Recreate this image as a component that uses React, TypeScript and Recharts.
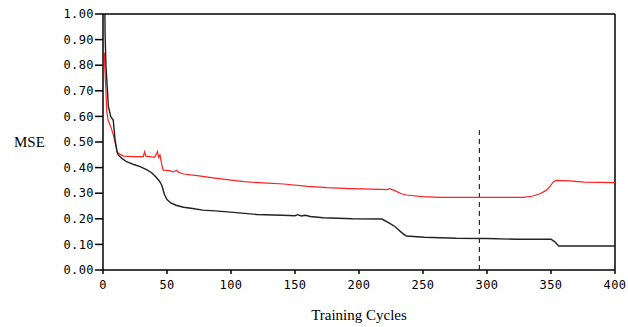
import React from 'react';
import { LineChart, Line, XAxis, YAxis, ReferenceLine } from 'recharts';

const blackCycles = [0, 1.5, 1.6, 2.3, 3, 4.2, 6, 8, 9.4, 11, 12, 15, 18.5, 24, 29, 34, 38, 41, 44, 46, 48, 50, 53, 57, 63, 70, 78, 90, 104, 120, 140, 150, 152, 155, 158, 162, 172, 195, 218, 224, 228, 234, 237, 251, 276, 300, 323, 350, 353, 356, 400];
const blackMse = [1.0, 1.0, 0.93, 0.8, 0.74, 0.64, 0.6, 0.585, 0.51, 0.46, 0.449, 0.435, 0.423, 0.412, 0.404, 0.392, 0.38, 0.365, 0.348, 0.33, 0.295, 0.275, 0.262, 0.253, 0.245, 0.24, 0.234, 0.23, 0.224, 0.217, 0.214, 0.212, 0.216, 0.211, 0.214, 0.209, 0.204, 0.2, 0.199, 0.182, 0.17, 0.143, 0.133, 0.128, 0.124, 0.123, 0.12, 0.12, 0.11, 0.094, 0.094];

const redCycles = [1, 1.5, 2.3, 2.9, 4, 6, 8, 9.4, 11, 12, 16, 25, 31.5, 32.5, 33.5, 36.7, 40, 42, 42.5, 43.5, 44.5, 46, 47, 52, 55, 57.5, 59, 63, 75, 89, 110, 125, 141, 160, 175, 193, 210, 222, 224, 228, 233, 237, 250, 263, 328, 335, 341, 346, 349, 352, 354, 365, 376, 400];
const redMse = [0.85, 0.78, 0.7, 0.62, 0.585, 0.56, 0.53, 0.5, 0.465, 0.456, 0.445, 0.443, 0.443, 0.462, 0.445, 0.443, 0.44, 0.455, 0.462, 0.44, 0.45, 0.41, 0.39, 0.388, 0.383, 0.39, 0.382, 0.375, 0.368, 0.358, 0.345, 0.34, 0.336, 0.327, 0.322, 0.318, 0.316, 0.314, 0.318, 0.31, 0.298, 0.293, 0.287, 0.284, 0.284, 0.288, 0.297, 0.31, 0.326, 0.345, 0.35, 0.348, 0.343, 0.341];

const xTicks = [0, 50, 100, 150, 200, 250, 300, 350, 400];
const yTicks = [0, 0.1, 0.2, 0.3, 0.4, 0.5, 0.6, 0.7, 0.8, 0.9, 1.0];
const markerCycle = 294;
const markerTop = 0.55;

const blackData = blackCycles.map((x, i) => ({ x, y: blackMse[i] }));
const redData = redCycles.map((x, i) => ({ x, y: redMse[i] }));

const tickStyle = { fontFamily: '"DejaVu Sans Mono", monospace', fontSize: 12, fill: '#000', letterSpacing: 0.4 };

export default function App() {
  return (
    <div style={{ position: 'absolute', left: 0, top: 0, background: '#fff' }}>
      <LineChart width={628} height={327} margin={{ top: 14, right: 13, left: 0, bottom: 27 }}>
        <XAxis
          type="number"
          dataKey="x"
          domain={[0, 400]}
          ticks={xTicks}
          allowDataOverflow
          tick={tickStyle}
          tickSize={4}
          tickMargin={6}
          height={30}
          stroke="#000"
          strokeWidth={1.5}
          label={{ value: 'Training Cycles', position: 'bottom', offset: 9, style: { fontFamily: '"Liberation Serif", serif', fontSize: 15, fill: '#000' } }}
        />
        <YAxis
          type="number"
          dataKey="y"
          domain={[0, 1]}
          ticks={yTicks}
          allowDataOverflow
          tickFormatter={(v: number) => v.toFixed(2)}
          tick={tickStyle}
          tickSize={8}
          tickMargin={1}
          width={103}
          stroke="#000"
          strokeWidth={1.5}
          label={{ value: 'MSE', position: 'insideLeft', offset: 14, style: { fontFamily: '"Liberation Serif", serif', fontSize: 15, fill: '#000' } }}
        />
        <ReferenceLine y={1} stroke="#000" strokeWidth={1.5} />
        <ReferenceLine x={400} stroke="#000" strokeWidth={1.5} />
        <ReferenceLine
          segment={[{ x: markerCycle, y: 0 }, { x: markerCycle, y: markerTop }]}
          stroke="#000"
          strokeWidth={1}
          strokeDasharray="5 4"
        />
        <Line data={redData} dataKey="y" type="linear" stroke="#ff2020" strokeWidth={1.2} dot={false} isAnimationActive={false} />
        <Line data={blackData} dataKey="y" type="linear" stroke="#222" strokeWidth={1.4} dot={false} isAnimationActive={false} />
      </LineChart>
    </div>
  );
}
